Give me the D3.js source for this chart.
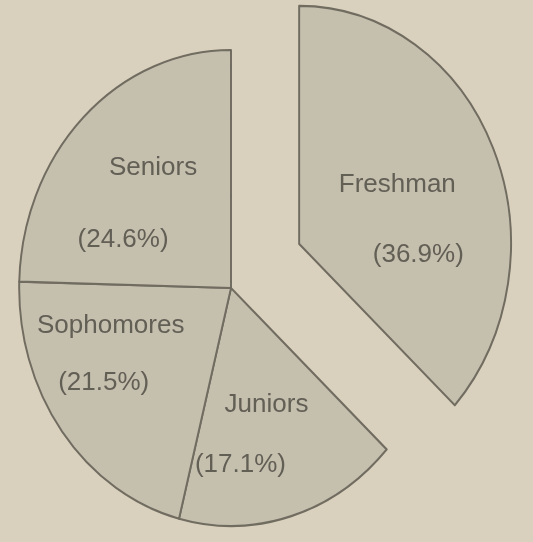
<!DOCTYPE html>
<html>
<head>
<meta charset="utf-8">
<script src="https://cdn.jsdelivr.net/npm/d3@7"></script>
<style>
  html, body { margin: 0; padding: 0; background: #d9d1bd; }
  svg { display: block; }
</style>
</head>
<body>
<div id="chart"></div>
<script>
// class breakdown, clockwise from 12 o'clock
const classes = ['Freshman', 'Juniors', 'Sophomores', 'Seniors'];
const shares = [36.9, 17.1, 21.5, 24.6];
const pctLabels = ['(36.9%)', '(17.1%)', '(21.5%)', '(24.6%)'];
const exploded = ['Freshman'];

const width = 533;
const height = 542;
const cx = 231, cy = 288;
const radius = 238;
const squeeze = 0.89;      // scan is a bit narrower than tall
const explodeBy = 88;
const labelR = 140;

// little hand nudges so labels sit where the scan has them
const labelShift = {
  Freshman:   {dx: -6,  dy: 30,  name: [-10, -35], pct: [11, 35]},
  Juniors:    {dx: -14, dy: 11,  name: [14, -30],  pct: [-12, 30]},
  Sophomores: {dx: -24, dy: -20, name: [3, -29],   pct: [-4, 28]},
  Seniors:    {dx: -6,  dy: 14,  name: [15, -36],  pct: [-15, 36]}
};

const svg = d3.select('#chart')
  .append('svg')
  .attr('width', width)
  .attr('height', height);

svg.append('rect')
  .attr('width', width)
  .attr('height', height)
  .attr('fill', '#d9d1bd');

const defs = svg.append('defs');
defs.append('filter')
  .attr('id', 'scan')
  .append('feGaussianBlur')
  .attr('stdDeviation', 0.6);

const pie = d3.pie().sort(null).value(d => d.value);
const slices = pie(classes.map((c, i) => ({name: c, value: shares[i], pct: pctLabels[i]})));

const arc = d3.arc().innerRadius(0).outerRadius(radius);
const labelArc = d3.arc().innerRadius(labelR).outerRadius(labelR);

let offsetOf = d => {
  if (!exploded.includes(d.data.name)) return [0, 0];
  const mid = (d.startAngle + d.endAngle) / 2;
  return [Math.sin(mid) * explodeBy * 0.95, -Math.cos(mid) * explodeBy * 1.25];
};

const pieGroup = svg.append('g')
  .attr('filter', 'url(#scan)')
  .attr('transform', `translate(${cx}, ${cy}) scale(${squeeze}, 1)`);

pieGroup.selectAll('path')
  .data(slices)
  .enter()
  .append('path')
  .attr('d', arc)
  .attr('transform', d => `translate(${offsetOf(d)[0]}, ${offsetOf(d)[1]})`)
  .attr('fill', '#c5bfae')
  .attr('stroke', '#716c61')
  .attr('stroke-width', 2.2)
  .attr('stroke-linejoin', 'round');

const labels = svg.append('g')
  .attr('filter', 'url(#scan)')
  .selectAll('g')
  .data(slices)
  .enter()
  .append('g')
  .attr('transform', d => {
    const o = offsetOf(d);
    const c = labelArc.centroid(d);
    const s = labelShift[d.data.name];
    const x = cx + (c[0] + o[0]) * squeeze + s.dx;
    const y = cy + c[1] + o[1] + s.dy;
    return `translate(${x}, ${y})`;
  });

labels.append('text')
  .text(d => d.data.name)
  .attr('x', d => labelShift[d.data.name].name[0])
  .attr('y', d => labelShift[d.data.name].name[1]);

labels.append('text')
  .text(d => d.data.pct)
  .attr('x', d => labelShift[d.data.name].pct[0])
  .attr('y', d => labelShift[d.data.name].pct[1]);

labels.selectAll('text')
  .attr('text-anchor', 'middle')
  .attr('dominant-baseline', 'central')
  .attr('font-family', '"Liberation Sans", Arial, sans-serif')
  .attr('font-size', 26)
  .attr('fill', '#625e55');
</script>
</body>
</html>
